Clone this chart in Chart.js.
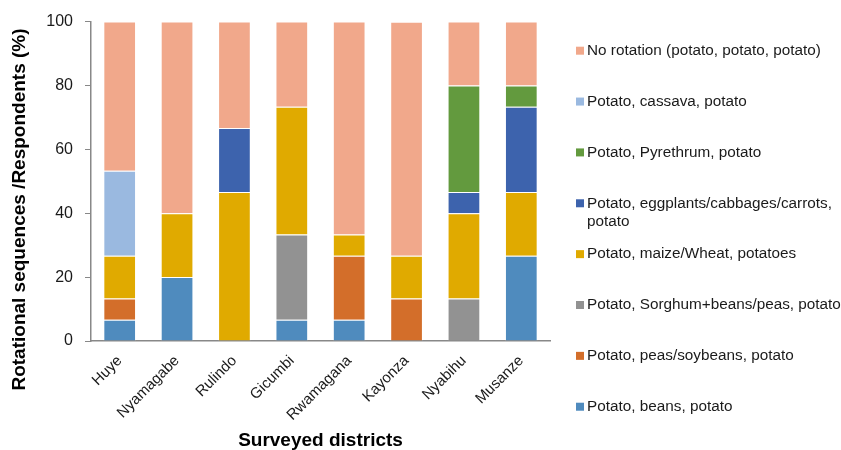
<!DOCTYPE html>
<html>
<head>
<meta charset="utf-8">
<script src="https://cdn.jsdelivr.net/npm/chart.js@4"></script>
<style>
  html, body { margin: 0; padding: 0; background: #fff; }
  canvas { display: block; }
</style>
</head>
<body>
<canvas id="chart" width="841" height="450"></canvas>
<script>
// Surveyed districts and the share of respondents (%) following each rotation
const districts = ['Huye', 'Nyamagabe', 'Rulindo', 'Gicumbi', 'Rwamagana', 'Kayonza', 'Nyabihu', 'Musanze'];
const beans      = [6.67, 20, null, 6.67, 6.67, null, null, 26.67];
const peasSoy    = [6.67, null, null, null, 20, 13.33, null, null];
const sorghum    = [null, null, null, 26.67, null, null, 13.33, null];
const maizeWheat = [13.33, 20, 46.67, 40, 6.67, 13.33, 26.67, 20];
const eggplants  = [null, null, 20, null, null, null, 6.67, 26.67];
const pyrethrum  = [null, null, null, null, null, null, 33.33, 6.67];
const cassava    = [26.67, null, null, null, null, null, null, null];
const noRotation = [46.67, 60, 33.33, 26.67, 66.67, 73.33, 20, 20];
const yTickStep = 20;
const yMax = 100;

const seriesLabels = [
  'Potato, beans, potato',
  'Potato, peas/soybeans, potato',
  'Potato, Sorghum+beans/peas, potato',
  'Potato, maize/Wheat, potatoes',
  'Potato, eggplants/cabbages/carrots, potato',
  'Potato, Pyrethrum, potato',
  'Potato, cassava, potato',
  'No rotation (potato, potato, potato)'
];
const seriesValues = [beans, peasSoy, sorghum, maizeWheat, eggplants, pyrethrum, cassava, noRotation];
const seriesColors = ['#4F8BBE', '#D36E2A', '#929292', '#E0AA00', '#3D63AD', '#639A3E', '#9AB9E0', '#F1A88B'];

const FONT = '"Liberation Sans", Arial, sans-serif';

function wrapText(ctx, text, maxWidth) {
  const words = text.split(' ');
  const lines = [];
  let line = '';
  words.forEach(w => {
    const test = line ? line + ' ' + w : w;
    if (line && ctx.measureText(test).width > maxWidth) {
      lines.push(line);
      line = w;
    } else {
      line = test;
    }
  });
  if (line) lines.push(line);
  return lines;
}

// Legend on the right (top to bottom in reverse stacking order) and the rotated y-axis title
const sideDecor = {
  id: 'sideDecor',
  afterDraw(chart) {
    const ctx = chart.ctx;
    ctx.save();
    ctx.font = '15.3px ' + FONT;
    ctx.textBaseline = 'middle';
    ctx.textAlign = 'left';
    const items = chart.data.datasets.slice().reverse();
    items.forEach((d, i) => {
      const y = 50.7 + i * 50.86;
      ctx.fillStyle = d.backgroundColor;
      ctx.fillRect(576, y - 4, 8, 8);
      ctx.fillStyle = '#1a1a1a';
      wrapText(ctx, d.label, 258).forEach((ln, j) => ctx.fillText(ln, 587, y + j * 18));
    });

    ctx.translate(20, 209.5);
    ctx.rotate(-Math.PI / 2);
    ctx.textAlign = 'center';
    ctx.font = 'bold 19px ' + FONT;
    ctx.fillStyle = '#000';
    ctx.fillText('Rotational sequences /Respondents (%)', 0, 0);
    ctx.restore();
  }
};

new Chart(document.getElementById('chart'), {
  type: 'bar',
  data: {
    labels: districts,
    datasets: seriesLabels.map((label, i) => ({
      label,
      data: seriesValues[i],
      backgroundColor: seriesColors[i],
      borderColor: 'rgba(255,255,255,0.4)',
      borderWidth: 1,
      barPercentage: 0.57,
      categoryPercentage: 1
    }))
  },
  options: {
    responsive: false,
    animation: false,
    layout: { padding: { top: 19, right: 291, left: 0, bottom: 0 } },
    plugins: {
      legend: { display: false },
      tooltip: { enabled: false }
    },
    scales: {
      x: {
        stacked: true,
        grid: { display: false, drawTicks: false },
        border: { display: true, color: '#888', width: 1.5 },
        ticks: { color: '#1a1a1a', font: { size: 15, family: FONT }, maxRotation: 45, minRotation: 45, padding: 11 },
        title: { display: true, text: 'Surveyed districts', color: '#000', font: { size: 19, weight: 'bold', family: FONT, lineHeight: 1 }, padding: 0 },
        afterFit(scale) { scale.height = 109; }
      },
      y: {
        stacked: true,
        min: 0,
        max: yMax,
        grid: { drawOnChartArea: false, drawTicks: true, tickLength: 6, color: '#888' },
        border: { display: true, color: '#888', width: 1.5 },
        ticks: { stepSize: yTickStep, color: '#1a1a1a', font: { size: 16, family: FONT }, padding: 12 },
        afterFit(scale) { scale.width = 91; }
      }
    }
  },
  plugins: [sideDecor]
});
</script>
</body>
</html>
